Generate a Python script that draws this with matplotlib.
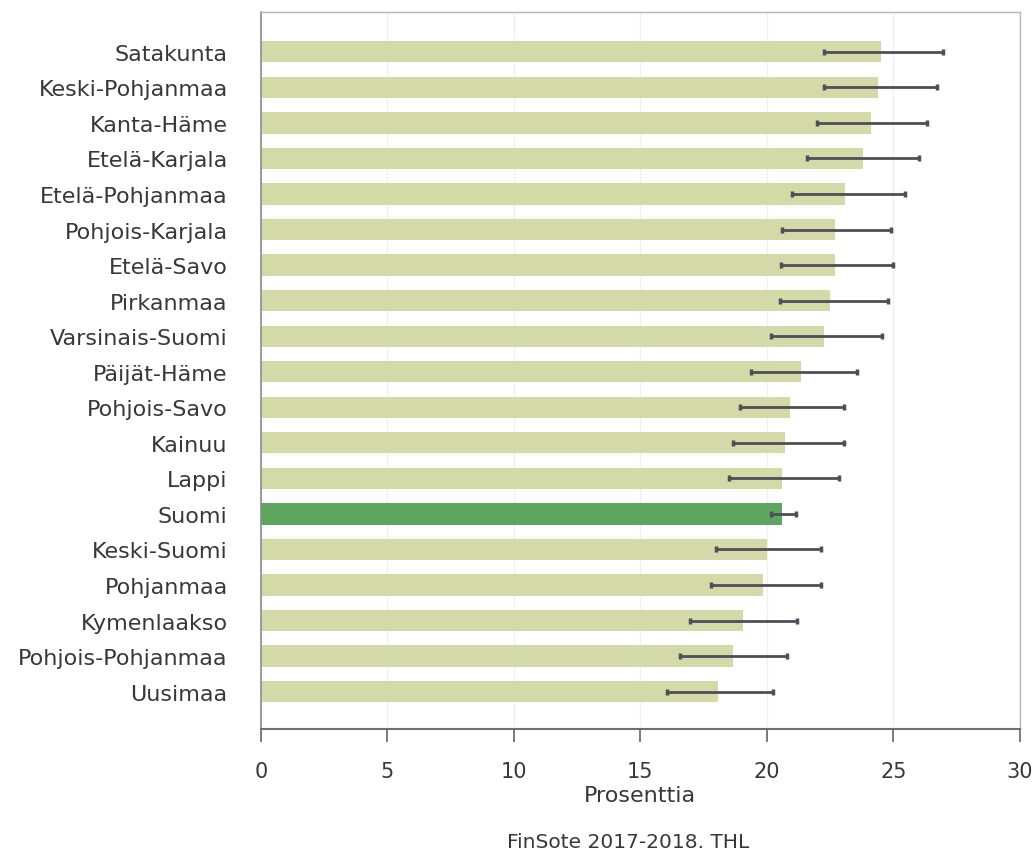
import numpy as np
import matplotlib.pyplot as plt

## regions, top to bottom as listed in the chart
regions = ['Satakunta', 'Keski-Pohjanmaa', 'Kanta-Häme', 'Etelä-Karjala',
           'Etelä-Pohjanmaa', 'Pohjois-Karjala', 'Etelä-Savo', 'Pirkanmaa',
           'Varsinais-Suomi', 'Päijät-Häme', 'Pohjois-Savo', 'Kainuu',
           'Lappi', 'Suomi', 'Keski-Suomi', 'Pohjanmaa', 'Kymenlaakso',
           'Pohjois-Pohjanmaa', 'Uusimaa']
## share (%) and confidence interval limits
share = [24.5, 24.4, 24.1, 23.8, 23.1, 22.7, 22.7, 22.5, 22.25, 21.35,
         20.9, 20.7, 20.6, 20.6, 20.0, 19.85, 19.05, 18.65, 18.05]
ci_low = [22.25, 22.24, 22.0, 21.6, 21.0, 20.6, 20.55, 20.5, 20.15, 19.37,
          18.95, 18.65, 18.5, 20.15, 18.0, 17.8, 16.95, 16.55, 16.05]
ci_high = [26.97, 26.74, 26.35, 26.0, 25.45, 24.9, 25.0, 24.8, 24.55, 23.57,
           23.05, 23.05, 22.85, 21.15, 22.15, 22.15, 21.2, 20.8, 20.25]
xticks = [0, 5, 10, 15, 20, 25, 30]

share = np.array(share)
lo = share - np.array(ci_low)
hi = np.array(ci_high) - share
n = len(regions)
ypos = np.arange(n)[::-1]

colors = ['#5ea65f' if r == 'Suomi' else '#d3daa8' for r in regions]
txt = '#38383c'

fig = plt.figure(figsize=(10.33, 8.53), dpi=100)
ax = fig.add_axes([0.2527, 0.1442, 0.7345, 0.8406])

ax.barh(ypos, share, height=0.6, color=colors, zorder=2)
ax.errorbar(share, ypos, xerr=[lo, hi], fmt='none', ecolor='#4e4e58',
            elinewidth=2.0, capsize=2.5, capthick=2.5, zorder=3)

ax.set_xlim(0, 30)
ax.set_ylim(-1.05, n - 1 + 1.12)
ax.set_xticks(xticks)
ax.set_yticks(ypos)
ax.set_yticklabels(regions)

ax.grid(axis='x', color='#f0f0f0', linewidth=1.0, zorder=0)
ax.set_axisbelow(True)

for side in ['top', 'right']:
    ax.spines[side].set_color('#b4b4bc')
    ax.spines[side].set_linewidth(1.0)
ax.spines['left'].set_color('#8a8a92')
ax.spines['left'].set_linewidth(1.2)
ax.spines['bottom'].set_color('#6e6e76')
ax.spines['bottom'].set_linewidth(1.5)

ax.tick_params(axis='y', length=0, pad=24, labelsize=16, labelcolor=txt)
ax.tick_params(axis='x', length=9, width=1.3, color='#6e6e76', pad=14,
               labelsize=15, labelcolor=txt)

ax.set_xlabel('Prosenttia', fontsize=16, color=txt, labelpad=3)
fig.text(628 / 1033, 1 - 843 / 853, 'FinSote 2017-2018. THL', ha='center',
         va='center', fontsize=14.5, color=txt)

plt.savefig('out.png', dpi=100)
